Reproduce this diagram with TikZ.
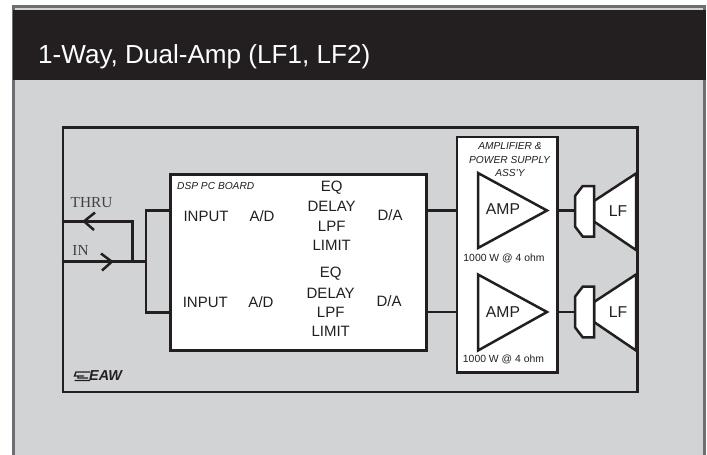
\documentclass[tikz,border=0pt]{standalone}
\usepackage{fontspec}
\setmainfont{Liberation Sans}
\newfontfamily\serifface{Liberation Serif}
\definecolor{ink}{HTML}{231F20}
\definecolor{panel}{HTML}{D1D3D4}
\definecolor{rim}{HTML}{6D6E71}
\tikzset{
  x=1pt,y=-1pt,
  wire/.style={draw=ink,line width=2.5pt},
  whitebox/.style={draw=ink,fill=white,line width=2.5pt,inner sep=0pt,anchor=north west},
  shapeline/.style={draw=ink,fill=white,line width=2.5pt,line join=miter},
  chevron/.style={draw=ink,line width=2.5pt,line join=miter},
  lbl/.style={inner sep=0pt,text=ink,font=\fontsize{15}{17}\selectfont},
  big/.style={inner sep=0pt,text=ink,font=\fontsize{15.7}{17}\selectfont},
  small/.style={inner sep=0pt,text=ink,font=\fontsize{10.4}{12}\selectfont},
  smallit/.style={inner sep=0pt,text=ink,font=\fontsize{10.2}{12}\selectfont\itshape},
  serif/.style={inner sep=0pt,text=ink!85,font=\fontsize{15.3}{17}\selectfont\serifface},
}
\begin{document}
\begin{tikzpicture}
\useasboundingbox (0,0) rectangle (707,455);
\fill[white] (0,0) rectangle (707,455);
% panel and rim
\fill[panel] (13.5,7) rectangle (704,455);
\draw[rim,line width=2.4pt] (13.5,455) -- (13.5,6.5) -- (704.5,6.5) -- (704.5,455);
\fill[ink] (13,9.7) rectangle (705.5,79.5);
\node[anchor=west,inner sep=0pt,text=white,font=\fontsize{26.1}{30}\selectfont] (title) at (38,57) {1-Way, Dual-Amp (LF1, LF2)};
% outer enclosure
\node[draw=ink,line width=2.5pt,inner sep=0pt,anchor=north west,minimum width=574.5pt,minimum height=264.5pt] (outer) at (61.5,126) {};
% boards
\node[whitebox,minimum width=255.7pt,minimum height=175.7pt] (dsp) at (169.3,173.3) {};
\node[whitebox,minimum width=100.5pt,minimum height=235.5pt] (ampbox) at (455.7,135.7) {};
% amplifiers
\coordinate (a1out) at (547,210.5);
\coordinate (a2out) at (547,312);
\draw[shapeline,fill=none,miter limit=10] (478,173) -- (a1out) -- (478,248) -- cycle;
\draw[shapeline,fill=none,miter limit=10] (478,274.5) -- (a2out) -- (478,350.5) -- cycle;
% speakers
\coordinate (d1) at (575,211);
\coordinate (d2) at (575,312);
\draw[shapeline] (594,201) -- (636,173.5) -- (636,250) -- (594,221.5) -- cycle;
\draw[shapeline] (594,302) -- (636,274.5) -- (636,350.5) -- (594,322) -- cycle;
\draw[shapeline] (575,196) -- (582.7,186) -- (594,186) -- (594,236.5) -- (582.7,236.5) -- (575,226.5) -- cycle;
\draw[shapeline] (575,296.7) -- (582.7,286.7) -- (594,286.7) -- (594,337.3) -- (582.7,337.3) -- (575,327.3) -- cycle;
% wires
\draw[wire] (dsp.east |- a1out) -- (ampbox.west |- a1out);
\draw[wire] (dsp.east |- a2out) -- (ampbox.west |- a2out);
\draw[wire] (ampbox.east |- a1out) -- (d1 |- a1out);
\draw[wire] (ampbox.east |- a2out) -- (d2 |- a2out);
\coordinate (thruj) at (132.5,221.3);
\coordinate (inj) at (132.5,261.7);
\coordinate (busj) at (146,261.7);
\coordinate (bustop) at (146,210.7);
\coordinate (busbot) at (146,312.7);
\draw[wire] (outer.west |- thruj) -- (thruj) -- (inj);
\draw[wire] (outer.west |- inj) -- (busj);
\draw[wire] (dsp.west |- bustop) -- (bustop) -- (busbot) -- (dsp.west |- busbot);
% arrow chevrons
\coordinate (thrutip) at (84,221.3);
\coordinate (intip) at (111.8,261.7);
\draw[chevron] (95,212.5) -- (thrutip) -- (94,230);
\draw[chevron] (101,253.5) -- (intip) -- (102,270.5);
% labels
\node[serif] (thru) at (91.5,202.5) {THRU};
\node[serif] (in) at (80.5,250.5) {IN};
\node[smallit,anchor=west] (board) at (177,186) {DSP PC BOARD};
\node[lbl] (i1) at (206,216.7) {INPUT};
\node[lbl] (i2) at (205.3,302.3) {INPUT};
\node[lbl] (ad1) at (262,216) {A/D};
\node[lbl] (ad2) at (261,302.3) {A/D};
\node[lbl] (eq1) at (331.7,187.7) {EQ};
\node[lbl] (de1) at (331.7,206.7) {DELAY};
\node[lbl] (lp1) at (331.7,226.5) {LPF};
\node[lbl] (li1) at (331.7,245.3) {LIMIT};
\node[lbl] (eq2) at (330.7,273.3) {EQ};
\node[lbl] (de2) at (330.7,293.3) {DELAY};
\node[lbl] (lp2) at (330.7,312) {LPF};
\node[lbl] (li2) at (330.7,331.3) {LIMIT};
\node[lbl] (da1) at (390,215) {D/A};
\node[lbl] (da2) at (389,300.7) {D/A};
\node[smallit] (as1) at (510,146.5) {AMPLIFIER \&};
\node[smallit] (as2) at (509.5,159.5) {POWER SUPPLY};
\node[smallit] (as3) at (510,172.5) {ASS'Y};
\node[big] (amp1) at (503,209.5) {AMP};
\node[big] (amp2) at (503,312) {AMP};
\node[small] (w1) at (504,258.5) {1000 W @ 4 ohm};
\node[small] (w2) at (503.5,359.5) {1000 W @ 4 ohm};
\node[big] (lf1) at (618,211.5) {LF};
\node[big] (lf2) at (618,312) {LF};
% logo
\draw[ink,line width=1.4pt] (90,372) -- (76,372) -- (74.5,376) -- (84,376) (74.5,380.5) -- (90,380.5) (78,376) -- (78,378) -- (88,378);
\node[inner sep=0pt,anchor=west,text=ink,font=\fontsize{14.4}{16}\selectfont\bfseries\itshape] (logo) at (89,376) {EAW};
\end{tikzpicture}
\end{document}
